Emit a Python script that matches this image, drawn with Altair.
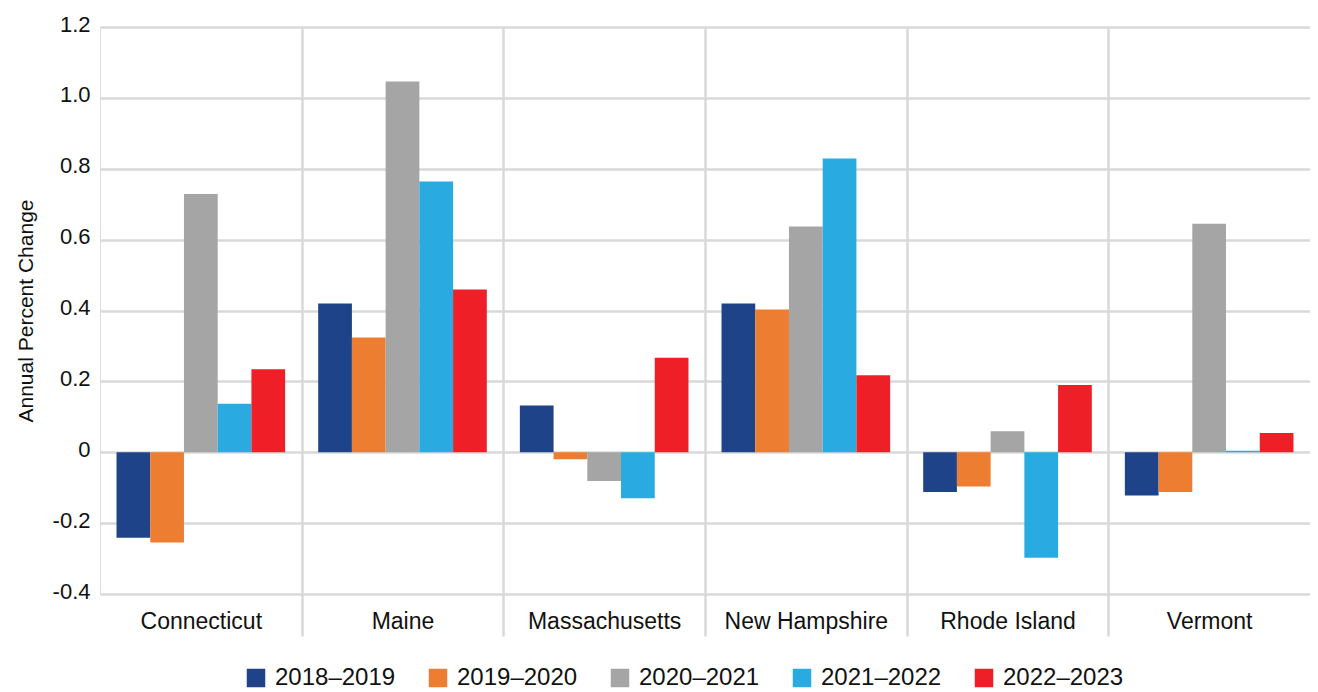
import altair as alt
import pandas as pd

states = ["Connecticut", "Maine", "Massachusetts", "New Hampshire", "Rhode Island", "Vermont"]
periods = ["2018–2019", "2019–2020", "2020–2021", "2021–2022", "2022–2023"]

v_2018_2019 = [-0.241, 0.420, 0.132, 0.420, -0.112, -0.122]
v_2019_2020 = [-0.255, 0.324, -0.020, 0.403, -0.097, -0.112]
v_2020_2021 = [0.729, 1.046, -0.081, 0.637, 0.059, 0.645]
v_2021_2022 = [0.137, 0.764, -0.130, 0.829, -0.298, 0.004]
v_2022_2023 = [0.234, 0.459, 0.267, 0.217, 0.190, 0.054]

colors = ["#1e4389", "#ed7d31", "#a5a5a5", "#29abe2", "#ee1f26"]
y_ticks = [-0.4, -0.2, 0, 0.2, 0.4, 0.6, 0.8, 1.0, 1.2]

series = [v_2018_2019, v_2019_2020, v_2020_2021, v_2021_2022, v_2022_2023]
rows = []
for p, vals in zip(periods, series):
    for s, v in zip(states, vals):
        rows.append({"state": s, "period": p, "value": v})
df = pd.DataFrame(rows)

W, H = 1210, 567
FONT = "Liberation Sans"
GRID = "#d9d9d9"
hide_edge = {
    "condition": {"test": "datum.value === 'Vermont' || datum.extra", "value": "transparent"},
    "value": GRID,
}

chart = alt.Chart(df).mark_bar().encode(
    x=alt.X(
        "state:N",
        sort=states,
        scale=alt.Scale(domain=states, paddingInner=0, paddingOuter=0),
        axis=alt.Axis(
            title=None, labelAngle=0, labelFontSize=23, labelPadding=-26,
            labelAlign="center", labelBaseline="top",
            tickBand="extent", ticks=True, tickSize=42, tickWidth=2.5,
            tickColor=hide_edge, grid=True, gridWidth=2.5, gridColor=hide_edge,
            domain=False, labelColor="#111", labelFont=FONT,
        ),
    ),
    xOffset=alt.XOffset(
        "period:N", sort=periods,
        scale=alt.Scale(domain=periods, paddingOuter=0.49, paddingInner=0),
    ),
    y=alt.Y(
        "value:Q",
        scale=alt.Scale(domain=[-0.4, 1.2], nice=False, zero=False),
        axis=alt.Axis(
            values=y_ticks,
            title="Annual Percent Change",
            titleFont=FONT, titleFontSize=21, titleFontWeight="normal",
            titleColor="#111", titleAngle=-90, titleX=-68, titleY=283.5,
            titleAlign="center", titleBaseline="alphabetic",
            grid=True, gridColor=GRID, gridWidth=2.5,
            domain=False, ticks=False, labelPadding=10, labelOffset=-3,
            labelFont=FONT, labelFontSize=22, labelColor="#111",
            labelExpr="datum.value == 0 ? '0' : (datum.value < 0 ? '-' : '') + format(abs(datum.value), '.1f')",
        ),
    ),
    color=alt.Color(
        "period:N", sort=periods,
        scale=alt.Scale(domain=periods, range=colors),
        legend=alt.Legend(
            title=None, orient="none", direction="horizontal",
            legendX=144, legendY=639, padding=0,
            symbolType="square", symbolSize=342, symbolStrokeWidth=0,
            labelFont=FONT, labelFontSize=24, labelColor="#111",
            labelOffset=7, columnPadding=30, labelLimit=300,
        ),
    ),
).properties(
    width=W, height=H,
    autosize=alt.AutoSizeParams(type="none"),
    padding={"left": 92, "top": 19, "right": 0, "bottom": 98},
).configure_view(stroke=None).configure(background="white")

chart.save("out.html", embed_options={"renderer": "svg", "actions": False})
